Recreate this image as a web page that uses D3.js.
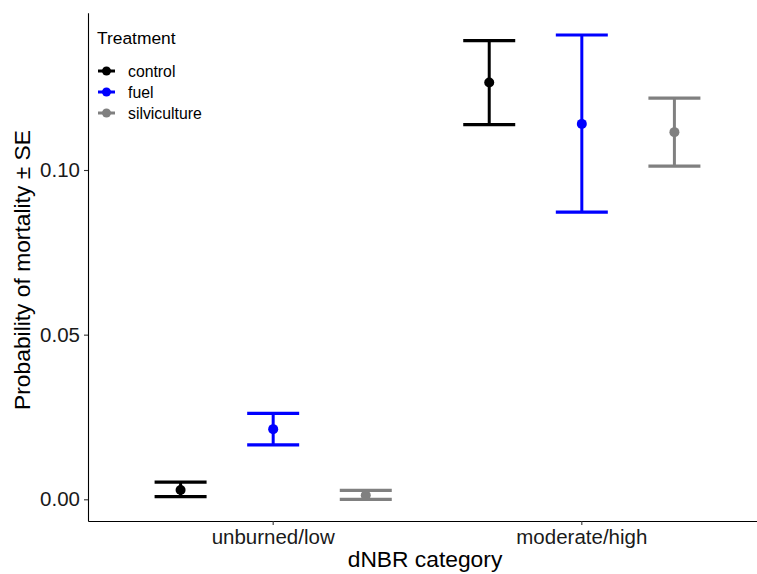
<!DOCTYPE html>
<html>
<head>
<meta charset="utf-8">
<script src="https://cdn.jsdelivr.net/npm/d3@7"></script>
<style>
  body { margin: 0; background: #fff; }
  svg text { font-family: "Liberation Sans", Arial, sans-serif; }
</style>
</head>
<body>
<script>
// chart data
const categories = ['unburned/low', 'moderate/high'];
const treatments = ['control', 'fuel', 'silviculture'];
const colors = ['#000000', '#0000ff', '#808080'];

const meanControl = [0.0028, 0.1266];
const meanFuel = [0.0213, 0.1140];
const meanSilv = [0.0012, 0.1115];

const lowerControl = [0.0008, 0.1138];
const lowerFuel = [0.0165, 0.0872];
const lowerSilv = [0.0000, 0.1012];

const upperControl = [0.0052, 0.1393];
const upperFuel = [0.0261, 0.1410];
const upperSilv = [0.0027, 0.1218];

const yTicks = [0.00, 0.05, 0.10];

const width = 757;
const height = 574;
// the panel runs on past the right edge of the picture
const margin = { top: 12.7, bottom: 53, left: 88 };
const panelRight = 767;

const svg = d3.select('body')
  .append('svg')
  .attr('width', width)
  .attr('height', height);

// build a flat table from the arrays
const means = [meanControl, meanFuel, meanSilv];
const lowers = [lowerControl, lowerFuel, lowerSilv];
const uppers = [upperControl, upperFuel, upperSilv];
const rows = [];
treatments.forEach((t, i) => {
  categories.forEach((c, j) => {
    rows.push({ category: c, treatment: t, color: colors[i], mean: means[i][j], lo: lowers[i][j], hi: uppers[i][j] });
  });
});

// discrete x with ggplot-like expansion, plus a dodge scale inside each category
const x = d3.scaleBand()
  .domain(categories)
  .range([margin.left, panelRight])
  .paddingInner(0)
  .paddingOuter(0.1);

const dodge = d3.scaleBand()
  .domain(treatments)
  .range([-0.45 * x.step(), 0.45 * x.step()]);

const xPos = d => x(d.category) + x.bandwidth() / 2 + dodge(d.treatment) + dodge.bandwidth() / 2;

const y = d3.scaleLinear()
  .domain([-0.00659, 0.14777])
  .range([height - margin.bottom, margin.top]);

// axes
const xAxis = svg.append('g')
  .attr('transform', `translate(0, ${height - margin.bottom})`)
  .call(d3.axisBottom(x).tickSize(4).tickPadding(4.5).tickSizeOuter(0));

const yAxis = svg.append('g')
  .attr('transform', `translate(${margin.left}, 0)`)
  .call(d3.axisLeft(y).tickValues(yTicks).tickFormat(d3.format('.2f')).tickSize(4).tickPadding(4).tickSizeOuter(0));

[xAxis, yAxis].forEach(g => {
  g.select('.domain').attr('stroke', '#000').attr('stroke-width', 1.1);
  g.selectAll('.tick line').attr('stroke', '#333').attr('stroke-width', 1.1);
  g.selectAll('.tick text').attr('fill', '#1a1a1a').style('font-size', '20.5px');
});

// axis titles
svg.append('text')
  .attr('x', 425)
  .attr('y', 567)
  .attr('text-anchor', 'middle')
  .style('font-size', '22.8px')
  .text('dNBR category');

svg.append('text')
  .attr('transform', `translate(30, 270) rotate(-90)`)
  .attr('text-anchor', 'middle')
  .style('font-size', '22.8px')
  .text('Probability of mortality ± SE');

// error bars and points
const capHalf = 26;
const marks = svg.append('g');

marks.selectAll('line.stem')
  .data(rows)
  .enter()
  .append('line')
  .attr('class', 'stem')
  .attr('x1', xPos)
  .attr('x2', xPos)
  .attr('y1', d => y(d.lo))
  .attr('y2', d => y(d.hi))
  .attr('stroke', d => d.color)
  .attr('stroke-width', 3);

['lo', 'hi'].forEach(k => {
  marks.selectAll(`line.cap-${k}`)
    .data(rows)
    .enter()
    .append('line')
    .attr('class', `cap-${k}`)
    .attr('x1', d => xPos(d) - capHalf)
    .attr('x2', d => xPos(d) + capHalf)
    .attr('y1', d => y(d[k]))
    .attr('y2', d => y(d[k]))
    .attr('stroke', d => d.color)
    .attr('stroke-width', 3.2);
});

marks.selectAll('circle')
  .data(rows)
  .enter()
  .append('circle')
  .attr('cx', xPos)
  .attr('cy', d => y(d.mean))
  .attr('r', 5)
  .attr('fill', d => d.color);

// legend
const legend = svg.append('g')
  .attr('transform', 'translate(97, 44)');

legend.append('text')
  .style('font-size', '17.4px')
  .text('Treatment');

const item = legend.selectAll('g.item')
  .data(treatments)
  .enter()
  .append('g')
  .attr('class', 'item')
  .attr('transform', (d, i) => `translate(0, ${27 + i * 21})`);

item.append('line')
  .attr('x1', 1)
  .attr('x2', 18)
  .attr('stroke', (d, i) => colors[i])
  .attr('stroke-width', 3);

item.append('circle')
  .attr('cx', 9.5)
  .attr('r', 4.5)
  .attr('fill', (d, i) => colors[i]);

item.append('text')
  .attr('x', 31)
  .attr('dy', '0.35em')
  .style('font-size', '15.8px')
  .text(d => d);
</script>
</body>
</html>
